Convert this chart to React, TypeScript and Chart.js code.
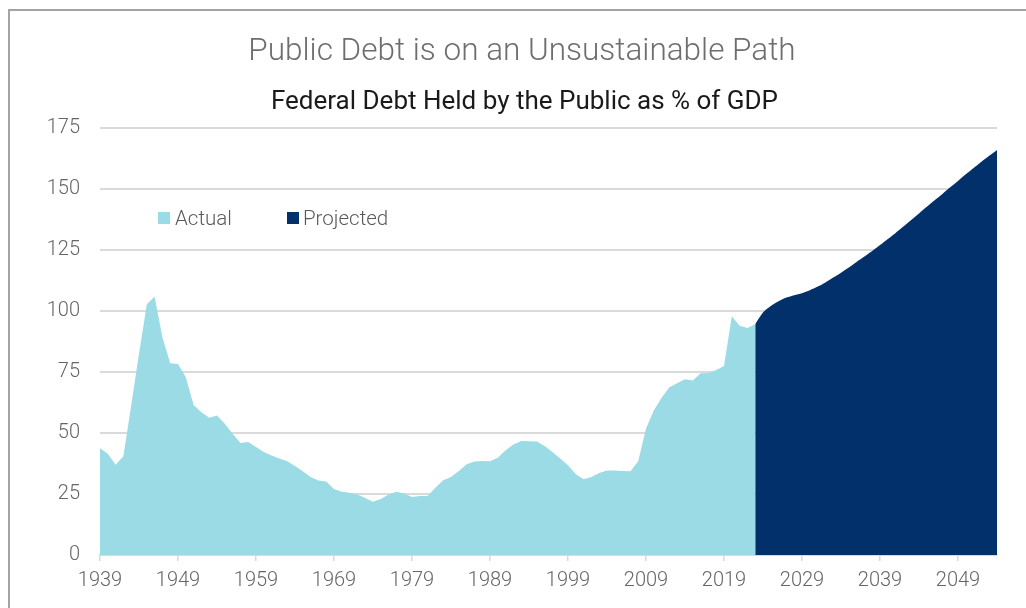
import React, { useEffect, useRef } from "react";
import { Chart, registerables } from "chart.js";

Chart.register(...registerables);

const firstYear = 1939;
const lastYear = 2054;
const years: string[] = Array.from({ length: lastYear - firstYear + 1 }, (_, i) => String(firstYear + i));

// Actual, 1939–2023
const actualValues: number[] = [
  43.8, 41.5, 37.0, 40.5, 61.3, 82.5, 102.8, 105.8, 89.2, 78.6, // 1939-1948
  78.3, 72.8, 61.5, 58.5, 56.2, 57.2, 53.8, 49.7, 45.9, 46.3, // 1949-1958
  44.3, 42.2, 40.8, 39.5, 38.4, 36.5, 34.3, 32.0, 30.5, 30.1, // 1959-1968
  27.0, 25.9, 25.5, 24.8, 23.4, 21.8, 22.9, 24.8, 25.9, 25.2, // 1969-1978
  23.8, 24.2, 24.2, 27.6, 30.6, 32.0, 34.4, 37.2, 38.3, 38.5, // 1979-1988
  38.4, 39.9, 42.9, 45.3, 46.7, 46.6, 46.5, 44.7, 42.2, 39.5, // 1989-1998
  36.8, 33.1, 31.0, 32.0, 33.6, 34.6, 34.6, 34.4, 34.3, 38.4, // 1999-2008
  51.8, 59.2, 64.4, 68.8, 70.4, 72.0, 71.5, 74.5, 74.6, 75.8, // 2009-2018
  77.5, 97.8, 94.0, 93.0, 94.6, // 2019-2023
];

// Projected, 2023–2054 (starts at the last actual year so the areas meet)
const projectedStartYear = 2023;
const projectedValues: number[] = [
  94.6, 99.4, 102.0, 104.0, 105.5, 106.5, 107.3, 108.5, 110.0, 111.7, // 2023-2032
  113.7, 115.7, 117.8, 120.1, 122.3, 124.6, 127.0, 129.5, 132.0, 134.6, // 2033-2042
  137.3, 140.0, 142.7, 145.4, 148.0, 150.7, 153.3, 156.0, 158.6, 161.2, // 2043-2052
  163.6, 166.0, // 2053-2054
];

const yTicks = [0, 25, 50, 75, 100, 125, 150, 175];
const labelEvery = 10;

const titleText = "Public Debt is on an Unsustainable Path";
const subtitleText = "Federal Debt Held by the Public as % of GDP";
const seriesNames = ["Actual", "Projected"];
const seriesColors = ["#9adbe6", "#02306a"];

const FONT = "Roboto, 'Open Sans', sans-serif";

export default function App() {
  const canvasRef = useRef<HTMLCanvasElement | null>(null);

  useEffect(() => {
    const canvas = canvasRef.current;
    if (!canvas) return;

    const actualData = years.map((_, i) => (i < actualValues.length ? actualValues[i] : null));
    const pOffset = projectedStartYear - firstYear;
    const projectedData = years.map((_, i) =>
      i >= pOffset && i - pOffset < projectedValues.length ? projectedValues[i - pOffset] : null
    );

    const chart = new Chart(canvas, {
      type: "line",
      data: {
        labels: years,
        datasets: [
          {
            label: seriesNames[0],
            data: actualData,
            backgroundColor: seriesColors[0],
            borderColor: seriesColors[0],
            borderWidth: 0,
            pointRadius: 0,
            fill: "origin",
            tension: 0,
            spanGaps: false,
          },
          {
            label: seriesNames[1],
            data: projectedData,
            backgroundColor: seriesColors[1],
            borderColor: seriesColors[1],
            borderWidth: 0,
            pointRadius: 0,
            fill: "origin",
            tension: 0.3,
            spanGaps: false,
          },
        ],
      },
      options: {
        responsive: false,
        animation: false,
        devicePixelRatio: 1,
        events: [],
        layout: { padding: { top: 128, right: 29, bottom: 0, left: 0 } },
        plugins: {
          legend: { display: false },
          title: { display: false },
          tooltip: { enabled: false },
        },
        scales: {
          x: {
            type: "category",
            offset: false,
            grid: {
              display: true,
              drawOnChartArea: false,
              drawTicks: true,
              tickLength: 6,
              color: "#d9d9d9",
              lineWidth: 1.5,
            },
            border: { display: true, color: "#d9d9d9", width: 2 },
            ticks: {
              autoSkip: false,
              maxRotation: 0,
              minRotation: 0,
              padding: 8,
              color: "#666666",
              font: { family: FONT, size: 20, weight: "300" },
              callback: (_v: any, index: number) =>
                index % labelEvery === 0 ? years[index] : null,
            },
            afterFit: (scale: any) => {
              scale.height = 53;
            },
          },
          y: {
            min: yTicks[0],
            max: yTicks[yTicks.length - 1],
            afterBuildTicks: (scale: any) => {
              scale.ticks = yTicks.map((v) => ({ value: v }));
            },
            grid: {
              color: "#dadada",
              lineWidth: 2,
              drawTicks: false,
            },
            border: { display: false },
            ticks: {
              padding: 20,
              color: "#666666",
              font: { family: FONT, size: 20, weight: "300" },
            },
            afterFit: (scale: any) => {
              scale.width = 100;
            },
          },
        },
      },
    });

    return () => chart.destroy();
  }, []);

  const legendText: React.CSSProperties = {
    position: "absolute",
    fontFamily: FONT,
    fontWeight: 300,
    fontSize: 20.5,
    color: "#595959",
    lineHeight: "24px",
    top: 206,
    whiteSpace: "nowrap",
  };
  const box = (left: number, color: string): React.CSSProperties => ({
    position: "absolute",
    left,
    top: 212,
    width: 12,
    height: 12,
    background: color,
  });

  return (
    <div
      style={{
        position: "fixed",
        left: 0,
        top: 0,
        width: 1026,
        height: 608,
        overflow: "hidden",
        background: "#ffffff",
      }}
    >
      <div
        style={{
          position: "absolute",
          left: 8,
          top: 9,
          width: 1100,
          height: 700,
          borderTop: "2px solid #a3a3a3",
          borderLeft: "2px solid #a3a3a3",
          boxSizing: "border-box",
        }}
      />
      <canvas
        ref={canvasRef}
        width={1026}
        height={608}
        style={{ position: "absolute", left: 0, top: 0, width: 1026, height: 608 }}
      />
      <div
        style={{
          position: "absolute",
          left: 18,
          width: 1008,
          top: 31,
          textAlign: "center",
          fontFamily: FONT,
          fontWeight: 300,
          fontSize: 31.5,
          lineHeight: "38px",
          color: "#6e6e6e",
          whiteSpace: "nowrap",
        }}
      >
        {titleText}
      </div>
      <div
        style={{
          position: "absolute",
          left: 23,
          width: 1003,
          top: 84,
          textAlign: "center",
          fontFamily: FONT,
          fontWeight: 400,
          fontSize: 26,
          lineHeight: "32px",
          color: "#1a1a1a",
          whiteSpace: "nowrap",
        }}
      >
        {subtitleText}
      </div>
      <div style={box(158, seriesColors[0])} />
      <div style={{ ...legendText, left: 175 }}>{seriesNames[0]}</div>
      <div style={box(287, seriesColors[1])} />
      <div style={{ ...legendText, left: 303 }}>{seriesNames[1]}</div>
    </div>
  );
}
